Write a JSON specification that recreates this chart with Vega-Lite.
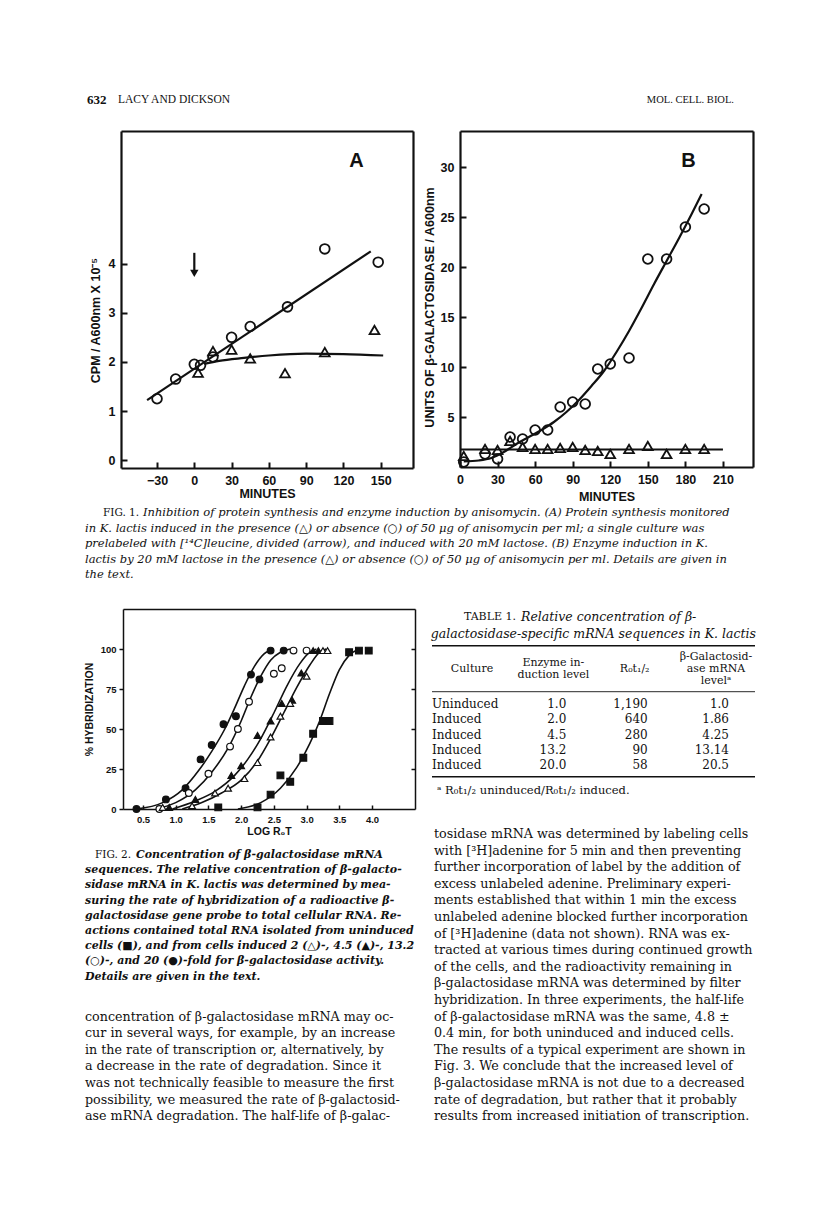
{
  "$schema": "https://vega.github.io/schema/vega-lite/v6.json",
  "width": 816,
  "height": 1217,
  "autosize": {"type": "none"},
  "padding": 0,
  "background": "white",
  "config": {
    "view": {"stroke": null},
    "axis": {"grid": false, "labelColor": "#111", "titleColor": "#111", "domainColor": "#111", "tickColor": "#111", "labelFont": "Liberation Sans", "titleFont": "Liberation Sans", "labelFontWeight": "bold", "titleFontWeight": "bold", "labelFlush": false, "labelOverlap": false},
    "text": {"font": "DejaVu Serif", "color": "#111", "baseline": "middle"}
  },
  "resolve": {
    "scale": {"x": "independent", "y": "independent", "shape": "independent", "fill": "independent"},
    "axis": {"x": "independent", "y": "independent"}
  },
  "datasets": {
    "figA": [
      {"series": "absent", "minute": -30, "value": 1.25},
      {"series": "absent", "minute": -15, "value": 1.65},
      {"series": "absent", "minute": 0, "value": 1.95},
      {"series": "absent", "minute": 5, "value": 1.93},
      {"series": "absent", "minute": 15, "value": 2.1},
      {"series": "absent", "minute": 30, "value": 2.5},
      {"series": "absent", "minute": 45, "value": 2.72},
      {"series": "absent", "minute": 75, "value": 3.12},
      {"series": "absent", "minute": 105, "value": 4.3},
      {"series": "absent", "minute": 148, "value": 4.03},
      {"series": "present", "minute": 3, "value": 1.78},
      {"series": "present", "minute": 15, "value": 2.22},
      {"series": "present", "minute": 30, "value": 2.25},
      {"series": "present", "minute": 45, "value": 2.07},
      {"series": "present", "minute": 73, "value": 1.77},
      {"series": "present", "minute": 105, "value": 2.2},
      {"series": "present", "minute": 145, "value": 2.65}
    ],
    "figA_fit": [
      {"series": "absent", "minute": -38, "value": 1.22},
      {"series": "absent", "minute": 142, "value": 4.25},
      {"series": "present", "minute": 8, "value": 1.96},
      {"series": "present", "minute": 20, "value": 2.02},
      {"series": "present", "minute": 40, "value": 2.08},
      {"series": "present", "minute": 60, "value": 2.13},
      {"series": "present", "minute": 90, "value": 2.17},
      {"series": "present", "minute": 120, "value": 2.16},
      {"series": "present", "minute": 152, "value": 2.13}
    ],
    "figA_arrow": [
      {"minute": 0, "from": 4.22, "to": 3.8}
    ],
    "figB": [
      {"series": "absent", "minute": 3, "value": 0.5},
      {"series": "absent", "minute": 20, "value": 1.3},
      {"series": "absent", "minute": 30, "value": 0.8},
      {"series": "absent", "minute": 40, "value": 3.0},
      {"series": "absent", "minute": 50, "value": 2.8},
      {"series": "absent", "minute": 60, "value": 3.7},
      {"series": "absent", "minute": 70, "value": 3.7},
      {"series": "absent", "minute": 80, "value": 6.0},
      {"series": "absent", "minute": 90, "value": 6.5},
      {"series": "absent", "minute": 100, "value": 6.3},
      {"series": "absent", "minute": 110, "value": 9.8},
      {"series": "absent", "minute": 120, "value": 10.3},
      {"series": "absent", "minute": 135, "value": 10.9},
      {"series": "absent", "minute": 150, "value": 20.8},
      {"series": "absent", "minute": 165, "value": 20.8},
      {"series": "absent", "minute": 180, "value": 24.0},
      {"series": "absent", "minute": 195, "value": 25.8},
      {"series": "present", "minute": 3, "value": 1.1},
      {"series": "present", "minute": 20, "value": 1.8},
      {"series": "present", "minute": 30, "value": 1.7},
      {"series": "present", "minute": 40, "value": 2.6},
      {"series": "present", "minute": 50, "value": 2.0},
      {"series": "present", "minute": 60, "value": 1.8},
      {"series": "present", "minute": 70, "value": 1.8},
      {"series": "present", "minute": 80, "value": 1.9},
      {"series": "present", "minute": 90, "value": 2.0},
      {"series": "present", "minute": 100, "value": 1.7},
      {"series": "present", "minute": 110, "value": 1.6},
      {"series": "present", "minute": 120, "value": 1.3},
      {"series": "present", "minute": 135, "value": 1.8},
      {"series": "present", "minute": 150, "value": 2.1},
      {"series": "present", "minute": 165, "value": 1.3},
      {"series": "present", "minute": 180, "value": 1.8},
      {"series": "present", "minute": 195, "value": 1.8}
    ],
    "figB_fit": [
      {"series": "absent", "minute": 3, "value": 0.55},
      {"series": "absent", "minute": 15, "value": 0.65},
      {"series": "absent", "minute": 25, "value": 0.9},
      {"series": "absent", "minute": 35, "value": 1.5},
      {"series": "absent", "minute": 45, "value": 2.3},
      {"series": "absent", "minute": 55, "value": 3.0},
      {"series": "absent", "minute": 65, "value": 3.7},
      {"series": "absent", "minute": 75, "value": 4.5},
      {"series": "absent", "minute": 85, "value": 5.5},
      {"series": "absent", "minute": 95, "value": 6.7},
      {"series": "absent", "minute": 105, "value": 8.1},
      {"series": "absent", "minute": 115, "value": 9.6},
      {"series": "absent", "minute": 125, "value": 11.5},
      {"series": "absent", "minute": 135, "value": 13.6},
      {"series": "absent", "minute": 145, "value": 15.9},
      {"series": "absent", "minute": 155, "value": 18.3},
      {"series": "absent", "minute": 165, "value": 20.6},
      {"series": "absent", "minute": 175, "value": 22.9},
      {"series": "absent", "minute": 185, "value": 25.3},
      {"series": "absent", "minute": 193, "value": 27.3},
      {"series": "present", "minute": 0, "value": 1.75},
      {"series": "present", "minute": 210, "value": 1.75}
    ],
    "fig2": [
      {"series": "20", "logrot": 0.4, "pct": 0},
      {"series": "20", "logrot": 0.85, "pct": 6},
      {"series": "20", "logrot": 1.15, "pct": 13},
      {"series": "20", "logrot": 1.38, "pct": 31},
      {"series": "20", "logrot": 1.55, "pct": 40},
      {"series": "20", "logrot": 1.73, "pct": 53},
      {"series": "20", "logrot": 1.92, "pct": 58},
      {"series": "20", "logrot": 2.15, "pct": 84},
      {"series": "20", "logrot": 2.28, "pct": 81},
      {"series": "20", "logrot": 2.45, "pct": 99},
      {"series": "20", "logrot": 2.65, "pct": 99},
      {"series": "13.2", "logrot": 0.75, "pct": 0},
      {"series": "13.2", "logrot": 1.2, "pct": 10},
      {"series": "13.2", "logrot": 1.5, "pct": 22},
      {"series": "13.2", "logrot": 1.83, "pct": 39},
      {"series": "13.2", "logrot": 1.95, "pct": 50},
      {"series": "13.2", "logrot": 2.12, "pct": 67},
      {"series": "13.2", "logrot": 2.5, "pct": 84.5},
      {"series": "13.2", "logrot": 2.62, "pct": 88},
      {"series": "13.2", "logrot": 2.8, "pct": 99},
      {"series": "13.2", "logrot": 3.0, "pct": 99},
      {"series": "4.5", "logrot": 0.9, "pct": 1},
      {"series": "4.5", "logrot": 1.3, "pct": 6},
      {"series": "4.5", "logrot": 1.85, "pct": 21},
      {"series": "4.5", "logrot": 2.0, "pct": 27},
      {"series": "4.5", "logrot": 2.25, "pct": 46},
      {"series": "4.5", "logrot": 2.45, "pct": 55},
      {"series": "4.5", "logrot": 2.62, "pct": 66},
      {"series": "4.5", "logrot": 2.78, "pct": 68},
      {"series": "4.5", "logrot": 2.92, "pct": 85},
      {"series": "4.5", "logrot": 3.1, "pct": 99},
      {"series": "4.5", "logrot": 3.18, "pct": 99},
      {"series": "2", "logrot": 0.8, "pct": 1},
      {"series": "2", "logrot": 1.25, "pct": 2},
      {"series": "2", "logrot": 1.6, "pct": 10},
      {"series": "2", "logrot": 1.8, "pct": 13},
      {"series": "2", "logrot": 2.05, "pct": 19},
      {"series": "2", "logrot": 2.25, "pct": 29},
      {"series": "2", "logrot": 2.45, "pct": 45},
      {"series": "2", "logrot": 2.6, "pct": 58},
      {"series": "2", "logrot": 2.75, "pct": 66},
      {"series": "2", "logrot": 3.0, "pct": 83},
      {"series": "2", "logrot": 3.25, "pct": 99},
      {"series": "2", "logrot": 3.32, "pct": 99},
      {"series": "1", "logrot": 1.65, "pct": 1},
      {"series": "1", "logrot": 2.25, "pct": 1},
      {"series": "1", "logrot": 2.45, "pct": 9},
      {"series": "1", "logrot": 2.6, "pct": 21},
      {"series": "1", "logrot": 2.75, "pct": 17},
      {"series": "1", "logrot": 2.95, "pct": 32},
      {"series": "1", "logrot": 3.1, "pct": 47},
      {"series": "1", "logrot": 3.25, "pct": 55},
      {"series": "1", "logrot": 3.35, "pct": 55},
      {"series": "1", "logrot": 3.65, "pct": 98},
      {"series": "1", "logrot": 3.8, "pct": 99},
      {"series": "1", "logrot": 3.95, "pct": 99}
    ],
    "fig2_fit": [
      {"series": "20", "logrot": 0.4, "pct": 0},
      {"series": "20", "logrot": 0.8, "pct": 4},
      {"series": "20", "logrot": 1.1, "pct": 12},
      {"series": "20", "logrot": 1.35, "pct": 24},
      {"series": "20", "logrot": 1.55, "pct": 36},
      {"series": "20", "logrot": 1.75, "pct": 50},
      {"series": "20", "logrot": 1.9, "pct": 63},
      {"series": "20", "logrot": 2.05, "pct": 77},
      {"series": "20", "logrot": 2.2, "pct": 89},
      {"series": "20", "logrot": 2.35, "pct": 97},
      {"series": "20", "logrot": 2.5, "pct": 100},
      {"series": "13.2", "logrot": 0.7, "pct": 0},
      {"series": "13.2", "logrot": 1.0, "pct": 4},
      {"series": "13.2", "logrot": 1.3, "pct": 12},
      {"series": "13.2", "logrot": 1.55, "pct": 23},
      {"series": "13.2", "logrot": 1.8, "pct": 38},
      {"series": "13.2", "logrot": 2.0, "pct": 55},
      {"series": "13.2", "logrot": 2.15, "pct": 70},
      {"series": "13.2", "logrot": 2.3, "pct": 83},
      {"series": "13.2", "logrot": 2.45, "pct": 93},
      {"series": "13.2", "logrot": 2.6, "pct": 98},
      {"series": "13.2", "logrot": 2.75, "pct": 100},
      {"series": "4.5", "logrot": 0.95, "pct": 0},
      {"series": "4.5", "logrot": 1.3, "pct": 5},
      {"series": "4.5", "logrot": 1.6, "pct": 11},
      {"series": "4.5", "logrot": 1.9, "pct": 21},
      {"series": "4.5", "logrot": 2.1, "pct": 31},
      {"series": "4.5", "logrot": 2.3, "pct": 44},
      {"series": "4.5", "logrot": 2.5, "pct": 60},
      {"series": "4.5", "logrot": 2.7, "pct": 77},
      {"series": "4.5", "logrot": 2.9, "pct": 91},
      {"series": "4.5", "logrot": 3.05, "pct": 98},
      {"series": "4.5", "logrot": 3.15, "pct": 100},
      {"series": "2", "logrot": 1.1, "pct": 0},
      {"series": "2", "logrot": 1.4, "pct": 4},
      {"series": "2", "logrot": 1.7, "pct": 10},
      {"series": "2", "logrot": 2.0, "pct": 18},
      {"series": "2", "logrot": 2.25, "pct": 30},
      {"series": "2", "logrot": 2.45, "pct": 44},
      {"series": "2", "logrot": 2.65, "pct": 60},
      {"series": "2", "logrot": 2.85, "pct": 76},
      {"series": "2", "logrot": 3.05, "pct": 90},
      {"series": "2", "logrot": 3.2, "pct": 98},
      {"series": "2", "logrot": 3.3, "pct": 100},
      {"series": "1", "logrot": 1.95, "pct": 0},
      {"series": "1", "logrot": 2.3, "pct": 4},
      {"series": "1", "logrot": 2.6, "pct": 13},
      {"series": "1", "logrot": 2.85, "pct": 26},
      {"series": "1", "logrot": 3.05, "pct": 41},
      {"series": "1", "logrot": 3.2, "pct": 55},
      {"series": "1", "logrot": 3.35, "pct": 72},
      {"series": "1", "logrot": 3.5, "pct": 87},
      {"series": "1", "logrot": 3.65, "pct": 96},
      {"series": "1", "logrot": 3.8, "pct": 100}
    ],
    "header": [
      {"column": "left", "line": 1, "part": "folio", "text": "632"},
      {"column": "left", "line": 1, "part": "authors", "text": "LACY AND DICKSON"},
      {"column": "left", "line": 1, "part": "journal", "text": "MOL. CELL. BIOL."}
    ],
    "cap1": [
      {"column": "left", "line": 1, "part": "lead", "text": "FIG. 1."},
      {"column": "left", "line": 1, "part": "rest", "text": "Inhibition of protein synthesis and enzyme induction by anisomycin. (A) Protein synthesis monitored"},
      {"column": "left", "line": 2, "part": "body", "text": "in K. lactis induced in the presence (△) or absence (○) of 50 μg of anisomycin per ml; a single culture was"},
      {"column": "left", "line": 3, "part": "body", "text": "prelabeled with [¹⁴C]leucine, divided (arrow), and induced with 20 mM lactose. (B) Enzyme induction in K."},
      {"column": "left", "line": 4, "part": "body", "text": "lactis by 20 mM lactose in the presence (△) or absence (○) of 50 μg of anisomycin per ml. Details are given in"},
      {"column": "left", "line": 5, "part": "body", "text": "the text."}
    ],
    "cap2": [
      {"column": "left", "line": 1, "part": "lead", "text": "FIG. 2."},
      {"column": "left", "line": 1, "part": "rest", "text": "Concentration of β-galactosidase mRNA"},
      {"column": "left", "line": 2, "part": "body", "text": "sequences. The relative concentration of β-galacto-"},
      {"column": "left", "line": 3, "part": "body", "text": "sidase mRNA in K. lactis was determined by mea-"},
      {"column": "left", "line": 4, "part": "body", "text": "suring the rate of hybridization of a radioactive β-"},
      {"column": "left", "line": 5, "part": "body", "text": "galactosidase gene probe to total cellular RNA. Re-"},
      {"column": "left", "line": 6, "part": "body", "text": "actions contained total RNA isolated from uninduced"},
      {"column": "left", "line": 7, "part": "body", "text": "cells (■), and from cells induced 2 (△)-, 4.5 (▲)-, 13.2"},
      {"column": "left", "line": 8, "part": "body", "text": "(○)-, and 20 (●)-fold for β-galactosidase activity."},
      {"column": "left", "line": 9, "part": "body", "text": "Details are given in the text."}
    ],
    "body": [
      {"column": "left", "line": 12, "text": "concentration of β-galactosidase mRNA may oc-"},
      {"column": "left", "line": 13, "text": "cur in several ways, for example, by an increase"},
      {"column": "left", "line": 14, "text": "in the rate of transcription or, alternatively, by"},
      {"column": "left", "line": 15, "text": "a decrease in the rate of degradation. Since it"},
      {"column": "left", "line": 16, "text": "was not technically feasible to measure the first"},
      {"column": "left", "line": 17, "text": "possibility, we measured the rate of β-galactosid-"},
      {"column": "left", "line": 18, "text": "ase mRNA degradation. The half-life of β-galac-"},
      {"column": "right", "line": 1, "text": "tosidase mRNA was determined by labeling cells"},
      {"column": "right", "line": 2, "text": "with [³H]adenine for 5 min and then preventing"},
      {"column": "right", "line": 3, "text": "further incorporation of label by the addition of"},
      {"column": "right", "line": 4, "text": "excess unlabeled adenine. Preliminary experi-"},
      {"column": "right", "line": 5, "text": "ments established that within 1 min the excess"},
      {"column": "right", "line": 6, "text": "unlabeled adenine blocked further incorporation"},
      {"column": "right", "line": 7, "text": "of [³H]adenine (data not shown). RNA was ex-"},
      {"column": "right", "line": 8, "text": "tracted at various times during continued growth"},
      {"column": "right", "line": 9, "text": "of the cells, and the radioactivity remaining in"},
      {"column": "right", "line": 10, "text": "β-galactosidase mRNA was determined by filter"},
      {"column": "right", "line": 11, "text": "hybridization. In three experiments, the half-life"},
      {"column": "right", "line": 12, "text": "of β-galactosidase mRNA was the same, 4.8 ±"},
      {"column": "right", "line": 13, "text": "0.4 min, for both uninduced and induced cells."},
      {"column": "right", "line": 14, "text": "The results of a typical experiment are shown in"},
      {"column": "right", "line": 15, "text": "Fig. 3. We conclude that the increased level of"},
      {"column": "right", "line": 16, "text": "β-galactosidase mRNA is not due to a decreased"},
      {"column": "right", "line": 17, "text": "rate of degradation, but rather that it probably"},
      {"column": "right", "line": 18, "text": "results from increased initiation of transcription."}
    ],
    "table1": [
      {"part": "lead", "col": "Culture", "row": -4, "text": "TABLE 1."},
      {"part": "titleItalic", "col": "Culture", "row": -4, "text": "Relative concentration of β-"},
      {"part": "title2", "col": "Enzyme", "row": -3, "text": "galactosidase-specific mRNA sequences in K. lactis"},
      {"part": "ruleThick", "from": "Culture", "to": "mRNA", "row": -2},
      {"part": "ruleThin", "from": "Culture", "to": "mRNA", "row": -0.25},
      {"part": "ruleThick", "from": "Culture", "to": "mRNA", "row": 5.5},
      {"part": "head", "col": "Culture", "row": -1, "text": "Culture"},
      {"part": "head", "col": "Enzyme", "row": -1.25, "text": "Enzyme in-"},
      {"part": "head", "col": "Enzyme", "row": -0.75, "text": "duction level"},
      {"part": "head", "col": "Rot", "row": -1, "text": "R₀t₁/₂"},
      {"part": "head", "col": "mRNA", "row": -1.5, "text": "β-Galactosid-"},
      {"part": "head", "col": "mRNA", "row": -1, "text": "ase mRNA"},
      {"part": "head", "col": "mRNA", "row": -0.5, "text": "levelᵃ"},
      {"part": "culture", "col": "Culture", "row": 1, "text": "Uninduced"},
      {"part": "culture", "col": "Culture", "row": 2, "text": "Induced"},
      {"part": "culture", "col": "Culture", "row": 3, "text": "Induced"},
      {"part": "culture", "col": "Culture", "row": 4, "text": "Induced"},
      {"part": "culture", "col": "Culture", "row": 5, "text": "Induced"},
      {"part": "number", "col": "Enzyme", "row": 1, "text": "1.0"},
      {"part": "number", "col": "Enzyme", "row": 2, "text": "2.0"},
      {"part": "number", "col": "Enzyme", "row": 3, "text": "4.5"},
      {"part": "number", "col": "Enzyme", "row": 4, "text": "13.2"},
      {"part": "number", "col": "Enzyme", "row": 5, "text": "20.0"},
      {"part": "number", "col": "Rot", "row": 1, "text": "1,190"},
      {"part": "number", "col": "Rot", "row": 2, "text": "640"},
      {"part": "number", "col": "Rot", "row": 3, "text": "280"},
      {"part": "number", "col": "Rot", "row": 4, "text": "90"},
      {"part": "number", "col": "Rot", "row": 5, "text": "58"},
      {"part": "number", "col": "mRNA", "row": 1, "text": "1.0 "},
      {"part": "number", "col": "mRNA", "row": 2, "text": "1.86"},
      {"part": "number", "col": "mRNA", "row": 3, "text": "4.25"},
      {"part": "number", "col": "mRNA", "row": 4, "text": "13.14"},
      {"part": "number", "col": "mRNA", "row": 5, "text": "20.5 "},
      {"part": "note", "col": "Culture", "row": 6.5, "text": "ᵃ R₀t₁/₂ uninduced/R₀t₁/₂ induced."}
    ]
  },
  "layer": [
    {
      "data": {"name": "figA_fit"},
      "mark": {"type": "line", "color": "#111", "strokeWidth": 2.2, "interpolate": "monotone"},
      "encoding": {
        "x": {"field": "minute", "type": "quantitative", "scale": {"domain": [-59, 176], "range": [121, 413], "nice": false, "zero": false},
          "axis": {"orient": "bottom", "offset": -749, "values": [-30, 0, 30, 60, 90, 120, 150], "title": "MINUTES", "domainWidth": 2.2, "tickSize": -6, "tickWidth": 2, "labelPadding": 12, "labelFontSize": 12.5, "titleFontSize": 12.5, "titlePadding": 1}},
        "y": {"field": "value", "type": "quantitative", "scale": {"domain": [-0.16, 6.7], "range": [468, 131], "nice": false, "zero": false},
          "axis": {"orient": "left", "offset": -121, "values": [0, 1, 2, 3, 4], "title": "CPM / A600nm X 10⁻⁵", "titleY": 320, "domainWidth": 2.2, "tickSize": -6, "tickWidth": 2, "labelPadding": 12, "labelFontSize": 12.5, "titleFontSize": 12.5, "titlePadding": 6}},
        "detail": {"field": "series"}
      }
    },
    {
      "data": {"name": "figA"},
      "mark": {"type": "point", "filled": false, "color": "#111", "strokeWidth": 1.8, "size": 95, "opacity": 1},
      "encoding": {
        "x": {"field": "minute", "type": "quantitative", "scale": {"domain": [-59, 176], "range": [121, 413], "nice": false, "zero": false},
          "axis": {"orient": "top", "offset": -131, "labels": false, "ticks": false, "domainWidth": 2.2, "title": "A", "titleX": 356, "titleY": 29, "titleFontSize": 20, "titleAlign": "center", "titleBaseline": "middle", "titleAngle": 0}},
        "y": {"field": "value", "type": "quantitative", "scale": {"domain": [-0.16, 6.7], "range": [468, 131], "nice": false, "zero": false},
          "axis": {"orient": "right", "offset": -403, "labels": false, "ticks": false, "domainWidth": 2.2, "title": null}},
        "shape": {"field": "series", "type": "nominal", "scale": {"domain": ["absent", "present"], "range": ["circle", "triangle-up"]}, "legend": null}
      }
    },
    {
      "data": {"name": "figA_arrow"},
      "mark": {"type": "rule", "color": "#111", "strokeWidth": 2.2},
      "encoding": {
        "x": {"field": "minute", "type": "quantitative", "scale": {"domain": [-59, 176], "range": [121, 413], "nice": false, "zero": false}, "axis": null},
        "y": {"field": "from", "type": "quantitative", "scale": {"domain": [-0.16, 6.7], "range": [468, 131], "nice": false, "zero": false}, "axis": null},
        "y2": {"field": "to"}
      }
    },
    {
      "data": {"name": "figA_arrow"},
      "mark": {"type": "point", "shape": "triangle-down", "filled": true, "color": "#111", "size": 70, "opacity": 1},
      "encoding": {
        "x": {"field": "minute", "type": "quantitative", "scale": {"domain": [-59, 176], "range": [121, 413], "nice": false, "zero": false}, "axis": null},
        "y": {"field": "to", "type": "quantitative", "scale": {"domain": [-0.16, 6.7], "range": [468, 131], "nice": false, "zero": false}, "axis": null}
      }
    },
    {
      "data": {"name": "figB_fit"},
      "mark": {"type": "line", "color": "#111", "strokeWidth": 2.2, "interpolate": "monotone"},
      "encoding": {
        "x": {"field": "minute", "type": "quantitative", "scale": {"domain": [0, 234], "range": [460, 753], "nice": false, "zero": false},
          "axis": {"orient": "bottom", "offset": -750, "values": [0, 30, 60, 90, 120, 150, 180, 210], "title": "MINUTES", "domainWidth": 2.2, "tickSize": -6, "tickWidth": 2, "labelPadding": 12, "labelFontSize": 12.5, "titleFontSize": 12.5, "titlePadding": 5}},
        "y": {"field": "value", "type": "quantitative", "scale": {"domain": [0, 33.6], "range": [467, 131], "nice": false, "zero": false},
          "axis": {"orient": "left", "offset": -460, "values": [5, 10, 15, 20, 25, 30], "title": "UNITS OF β-GALACTOSIDASE / A600nm", "titleY": 307, "domainWidth": 2.2, "tickSize": -6, "tickWidth": 2, "labelPadding": 12, "labelFontSize": 12.5, "titleFontSize": 12.5, "titlePadding": 4}},
        "detail": {"field": "series"}
      }
    },
    {
      "data": {"name": "figB"},
      "mark": {"type": "point", "filled": false, "color": "#111", "strokeWidth": 1.8, "size": 95, "opacity": 1},
      "encoding": {
        "x": {"field": "minute", "type": "quantitative", "scale": {"domain": [0, 234], "range": [460, 753], "nice": false, "zero": false},
          "axis": {"orient": "top", "offset": -131, "labels": false, "ticks": false, "domainWidth": 2.2, "title": "B", "titleX": 688, "titleY": 29, "titleFontSize": 20, "titleAlign": "center", "titleBaseline": "middle", "titleAngle": 0}},
        "y": {"field": "value", "type": "quantitative", "scale": {"domain": [0, 33.6], "range": [467, 131], "nice": false, "zero": false},
          "axis": {"orient": "right", "offset": -63, "labels": false, "ticks": false, "domainWidth": 2.2, "title": null}},
        "shape": {"field": "series", "type": "nominal", "scale": {"domain": ["absent", "present"], "range": ["circle", "triangle-up"]}, "legend": null}
      }
    },
    {
      "data": {"name": "fig2_fit"},
      "mark": {"type": "line", "color": "#111", "strokeWidth": 1.6, "interpolate": "monotone"},
      "encoding": {
        "x": {"field": "logrot", "type": "quantitative", "scale": {"domain": [0.194, 4.657], "range": [123, 415], "nice": false, "zero": false},
          "axis": {"orient": "bottom", "offset": -408, "values": [0.5, 1, 1.5, 2, 2.5, 3, 3.5, 4], "format": ".1f", "title": "LOG  R₀T", "domainWidth": 1.5, "tickSize": -4, "tickWidth": 1.5, "labelPadding": 9, "labelFontSize": 9.5, "titleFontSize": 10.5, "titlePadding": 3}},
        "y": {"field": "pct", "type": "quantitative", "scale": {"domain": [0, 125], "range": [809, 609], "nice": false, "zero": false},
          "axis": {"orient": "left", "offset": -123, "values": [0, 25, 50, 75, 100], "title": "% HYBRIDIZATION", "domainWidth": 1.5, "tickSize": 4, "tickWidth": 1.5, "labelPadding": 3, "labelFontSize": 9.5, "titleFontSize": 10.5, "titlePadding": 6}},
        "detail": {"field": "series"}
      }
    },
    {
      "data": {"name": "fig2"},
      "mark": {"type": "point", "filled": true, "stroke": "#111", "strokeWidth": 1.2, "size": 45, "opacity": 1},
      "encoding": {
        "x": {"field": "logrot", "type": "quantitative", "scale": {"domain": [0.194, 4.657], "range": [123, 415], "nice": false, "zero": false},
          "axis": {"orient": "top", "offset": -609, "labels": false, "ticks": false, "domainWidth": 1.5, "title": null}},
        "y": {"field": "pct", "type": "quantitative", "scale": {"domain": [0, 125], "range": [809, 609], "nice": false, "zero": false},
          "axis": {"orient": "right", "offset": -401, "values": [25, 50, 75, 100], "labels": false, "tickSize": -4, "tickWidth": 1.5, "domainWidth": 1.5, "title": null}},
        "shape": {"field": "series", "type": "nominal", "scale": {"domain": ["20", "13.2", "4.5", "2", "1"], "range": ["circle", "circle", "triangle-up", "triangle-up", "square"]}, "legend": null},
        "fill": {"field": "series", "type": "nominal", "scale": {"domain": ["20", "13.2", "4.5", "2", "1"], "range": ["#111111", "#ffffff", "#111111", "#ffffff", "#111111"]}, "legend": null}
      }
    },
    {
      "data": {"name": "header"},
      "transform": [{"filter": "datum.part === 'folio'"}],
      "mark": {"type": "text", "font": "Liberation Serif", "fontSize": 13, "fontWeight": "bold", "align": "left", "dx": 2},
      "encoding": {
        "x": {"field": "column", "type": "nominal", "scale": {"type": "point", "domain": ["left", "right"], "range": [85, 434], "padding": 0}, "axis": null},
        "y": {"field": "line", "type": "quantitative", "scale": {"domain": [1, 2], "range": [100, 116], "zero": false, "nice": false}, "axis": null},
        "text": {"field": "text"}
      }
    },
    {
      "data": {"name": "header"},
      "transform": [{"filter": "datum.part === 'authors'"}],
      "mark": {"type": "text", "font": "Liberation Serif", "fontSize": 11.5, "align": "left", "dx": 33},
      "encoding": {
        "x": {"field": "column", "type": "nominal", "scale": {"type": "point", "domain": ["left", "right"], "range": [85, 434], "padding": 0}, "axis": null},
        "y": {"field": "line", "type": "quantitative", "scale": {"domain": [1, 2], "range": [100, 116], "zero": false, "nice": false}, "axis": null},
        "text": {"field": "text"}
      }
    },
    {
      "data": {"name": "header"},
      "transform": [{"filter": "datum.part === 'journal'"}],
      "mark": {"type": "text", "font": "Liberation Serif", "fontSize": 10.5, "align": "right", "dx": 649},
      "encoding": {
        "x": {"field": "column", "type": "nominal", "scale": {"type": "point", "domain": ["left", "right"], "range": [85, 434], "padding": 0}, "axis": null},
        "y": {"field": "line", "type": "quantitative", "scale": {"domain": [1, 2], "range": [100, 116], "zero": false, "nice": false}, "axis": null},
        "text": {"field": "text"}
      }
    },
    {
      "data": {"name": "cap1"},
      "transform": [{"filter": "datum.part === 'lead'"}],
      "mark": {"type": "text", "fontSize": 10.5, "align": "left", "dx": 18},
      "encoding": {
        "x": {"field": "column", "type": "nominal", "scale": {"type": "point", "domain": ["left", "right"], "range": [85, 434], "padding": 0}, "axis": null},
        "y": {"field": "line", "type": "quantitative", "scale": {"domain": [1, 5], "range": [513, 575], "zero": false, "nice": false}, "axis": null},
        "text": {"field": "text"}
      }
    },
    {
      "data": {"name": "cap1"},
      "transform": [{"filter": "datum.part === 'rest'"}],
      "mark": {"type": "text", "fontSize": 11.5, "fontStyle": "italic", "align": "left", "dx": 58},
      "encoding": {
        "x": {"field": "column", "type": "nominal", "scale": {"type": "point", "domain": ["left", "right"], "range": [85, 434], "padding": 0}, "axis": null},
        "y": {"field": "line", "type": "quantitative", "scale": {"domain": [1, 5], "range": [513, 575], "zero": false, "nice": false}, "axis": null},
        "text": {"field": "text"}
      }
    },
    {
      "data": {"name": "cap1"},
      "transform": [{"filter": "datum.part === 'body'"}],
      "mark": {"type": "text", "fontSize": 11.5, "fontStyle": "italic", "align": "left"},
      "encoding": {
        "x": {"field": "column", "type": "nominal", "scale": {"type": "point", "domain": ["left", "right"], "range": [85, 434], "padding": 0}, "axis": null},
        "y": {"field": "line", "type": "quantitative", "scale": {"domain": [1, 5], "range": [513, 575], "zero": false, "nice": false}, "axis": null},
        "text": {"field": "text"}
      }
    },
    {
      "data": {"name": "table1"},
      "transform": [{"filter": "datum.part === 'lead'"}],
      "mark": {"type": "text", "fontSize": 11, "align": "right", "dx": 44},
      "encoding": {
        "x": {"field": "col", "type": "nominal", "scale": {"type": "point", "domain": ["Culture", "Enzyme", "Rot", "mRNA"], "range": [472, 716], "padding": 0}, "axis": null},
        "y": {"field": "row", "type": "quantitative", "scale": {"domain": [-4, -3, -2, -1.5, -0.5, -0.25, 1, 5, 5.5, 6.5], "range": [617, 633.5, 645.7, 657, 681, 691.7, 704, 765, 776.7, 791], "zero": false, "nice": false}, "axis": null},
        "text": {"field": "text"}
      }
    },
    {
      "data": {"name": "table1"},
      "transform": [{"filter": "datum.part === 'titleItalic'"}],
      "mark": {"type": "text", "fontSize": 12.5, "fontStyle": "italic", "align": "left", "dx": 49},
      "encoding": {
        "x": {"field": "col", "type": "nominal", "scale": {"type": "point", "domain": ["Culture", "Enzyme", "Rot", "mRNA"], "range": [472, 716], "padding": 0}, "axis": null},
        "y": {"field": "row", "type": "quantitative", "scale": {"domain": [-4, -3, -2, -1.5, -0.5, -0.25, 1, 5, 5.5, 6.5], "range": [617, 633.5, 645.7, 657, 681, 691.7, 704, 765, 776.7, 791], "zero": false, "nice": false}, "axis": null},
        "text": {"field": "text"}
      }
    },
    {
      "data": {"name": "table1"},
      "transform": [{"filter": "datum.part === 'title2'"}],
      "mark": {"type": "text", "fontSize": 12.5, "fontStyle": "italic", "align": "center", "dx": 40},
      "encoding": {
        "x": {"field": "col", "type": "nominal", "scale": {"type": "point", "domain": ["Culture", "Enzyme", "Rot", "mRNA"], "range": [472, 716], "padding": 0}, "axis": null},
        "y": {"field": "row", "type": "quantitative", "scale": {"domain": [-4, -3, -2, -1.5, -0.5, -0.25, 1, 5, 5.5, 6.5], "range": [617, 633.5, 645.7, 657, 681, 691.7, 704, 765, 776.7, 791], "zero": false, "nice": false}, "axis": null},
        "text": {"field": "text"}
      }
    },
    {
      "data": {"name": "table1"},
      "transform": [{"filter": "datum.part === 'ruleThick'"}],
      "mark": {"type": "rule", "color": "#111", "strokeWidth": 1.6, "xOffset": -40, "x2Offset": 39},
      "encoding": {
        "x": {"field": "from", "type": "nominal", "scale": {"type": "point", "domain": ["Culture", "Enzyme", "Rot", "mRNA"], "range": [472, 716], "padding": 0}, "axis": null},
        "x2": {"field": "to"},
        "y": {"field": "row", "type": "quantitative", "scale": {"domain": [-4, -3, -2, -1.5, -0.5, -0.25, 1, 5, 5.5, 6.5], "range": [617, 633.5, 645.7, 657, 681, 691.7, 704, 765, 776.7, 791], "zero": false, "nice": false}, "axis": null}
      }
    },
    {
      "data": {"name": "table1"},
      "transform": [{"filter": "datum.part === 'ruleThin'"}],
      "mark": {"type": "rule", "color": "#111", "strokeWidth": 0.9, "xOffset": -40, "x2Offset": 39},
      "encoding": {
        "x": {"field": "from", "type": "nominal", "scale": {"type": "point", "domain": ["Culture", "Enzyme", "Rot", "mRNA"], "range": [472, 716], "padding": 0}, "axis": null},
        "x2": {"field": "to"},
        "y": {"field": "row", "type": "quantitative", "scale": {"domain": [-4, -3, -2, -1.5, -0.5, -0.25, 1, 5, 5.5, 6.5], "range": [617, 633.5, 645.7, 657, 681, 691.7, 704, 765, 776.7, 791], "zero": false, "nice": false}, "axis": null}
      }
    },
    {
      "data": {"name": "table1"},
      "transform": [{"filter": "datum.part === 'head'"}],
      "mark": {"type": "text", "fontSize": 11, "align": "center"},
      "encoding": {
        "x": {"field": "col", "type": "nominal", "scale": {"type": "point", "domain": ["Culture", "Enzyme", "Rot", "mRNA"], "range": [472, 716], "padding": 0}, "axis": null},
        "y": {"field": "row", "type": "quantitative", "scale": {"domain": [-4, -3, -2, -1.5, -0.5, -0.25, 1, 5, 5.5, 6.5], "range": [617, 633.5, 645.7, 657, 681, 691.7, 704, 765, 776.7, 791], "zero": false, "nice": false}, "axis": null},
        "text": {"field": "text"}
      }
    },
    {
      "data": {"name": "table1"},
      "transform": [{"filter": "datum.part === 'culture'"}],
      "mark": {"type": "text", "fontSize": 12, "align": "left", "dx": -40},
      "encoding": {
        "x": {"field": "col", "type": "nominal", "scale": {"type": "point", "domain": ["Culture", "Enzyme", "Rot", "mRNA"], "range": [472, 716], "padding": 0}, "axis": null},
        "y": {"field": "row", "type": "quantitative", "scale": {"domain": [-4, -3, -2, -1.5, -0.5, -0.25, 1, 5, 5.5, 6.5], "range": [617, 633.5, 645.7, 657, 681, 691.7, 704, 765, 776.7, 791], "zero": false, "nice": false}, "axis": null},
        "text": {"field": "text"}
      }
    },
    {
      "data": {"name": "table1"},
      "transform": [{"filter": "datum.part === 'number'"}],
      "mark": {"type": "text", "fontSize": 12, "align": "right", "dx": 13},
      "encoding": {
        "x": {"field": "col", "type": "nominal", "scale": {"type": "point", "domain": ["Culture", "Enzyme", "Rot", "mRNA"], "range": [472, 716], "padding": 0}, "axis": null},
        "y": {"field": "row", "type": "quantitative", "scale": {"domain": [-4, -3, -2, -1.5, -0.5, -0.25, 1, 5, 5.5, 6.5], "range": [617, 633.5, 645.7, 657, 681, 691.7, 704, 765, 776.7, 791], "zero": false, "nice": false}, "axis": null},
        "text": {"field": "text"}
      }
    },
    {
      "data": {"name": "table1"},
      "transform": [{"filter": "datum.part === 'note'"}],
      "mark": {"type": "text", "fontSize": 11.5, "align": "left", "dx": -35},
      "encoding": {
        "x": {"field": "col", "type": "nominal", "scale": {"type": "point", "domain": ["Culture", "Enzyme", "Rot", "mRNA"], "range": [472, 716], "padding": 0}, "axis": null},
        "y": {"field": "row", "type": "quantitative", "scale": {"domain": [-4, -3, -2, -1.5, -0.5, -0.25, 1, 5, 5.5, 6.5], "range": [617, 633.5, 645.7, 657, 681, 691.7, 704, 765, 776.7, 791], "zero": false, "nice": false}, "axis": null},
        "text": {"field": "text"}
      }
    },
    {
      "data": {"name": "cap2"},
      "transform": [{"filter": "datum.part === 'lead'"}],
      "mark": {"type": "text", "fontSize": 10.5, "align": "left", "dx": 10},
      "encoding": {
        "x": {"field": "column", "type": "nominal", "scale": {"type": "point", "domain": ["left", "right"], "range": [85, 434], "padding": 0}, "axis": null},
        "y": {"field": "line", "type": "quantitative", "scale": {"domain": [1, 9], "range": [855, 976.6], "zero": false, "nice": false}, "axis": null},
        "text": {"field": "text"}
      }
    },
    {
      "data": {"name": "cap2"},
      "transform": [{"filter": "datum.part === 'rest'"}],
      "mark": {"type": "text", "fontSize": 11, "fontStyle": "italic", "fontWeight": "bold", "align": "left", "dx": 51},
      "encoding": {
        "x": {"field": "column", "type": "nominal", "scale": {"type": "point", "domain": ["left", "right"], "range": [85, 434], "padding": 0}, "axis": null},
        "y": {"field": "line", "type": "quantitative", "scale": {"domain": [1, 9], "range": [855, 976.6], "zero": false, "nice": false}, "axis": null},
        "text": {"field": "text"}
      }
    },
    {
      "data": {"name": "cap2"},
      "transform": [{"filter": "datum.part === 'body'"}],
      "mark": {"type": "text", "fontSize": 11, "fontStyle": "italic", "fontWeight": "bold", "align": "left"},
      "encoding": {
        "x": {"field": "column", "type": "nominal", "scale": {"type": "point", "domain": ["left", "right"], "range": [85, 434], "padding": 0}, "axis": null},
        "y": {"field": "line", "type": "quantitative", "scale": {"domain": [1, 9], "range": [855, 976.6], "zero": false, "nice": false}, "axis": null},
        "text": {"field": "text"}
      }
    },
    {
      "data": {"name": "body"},
      "mark": {"type": "text", "fontSize": 12.7, "align": "left"},
      "encoding": {
        "x": {"field": "column", "type": "nominal", "scale": {"type": "point", "domain": ["left", "right"], "range": [85, 434], "padding": 0}, "axis": null},
        "y": {"field": "line", "type": "quantitative", "scale": {"domain": [1, 18], "range": [834, 1116.2], "zero": false, "nice": false}, "axis": null},
        "text": {"field": "text"}
      }
    }
  ]
}
